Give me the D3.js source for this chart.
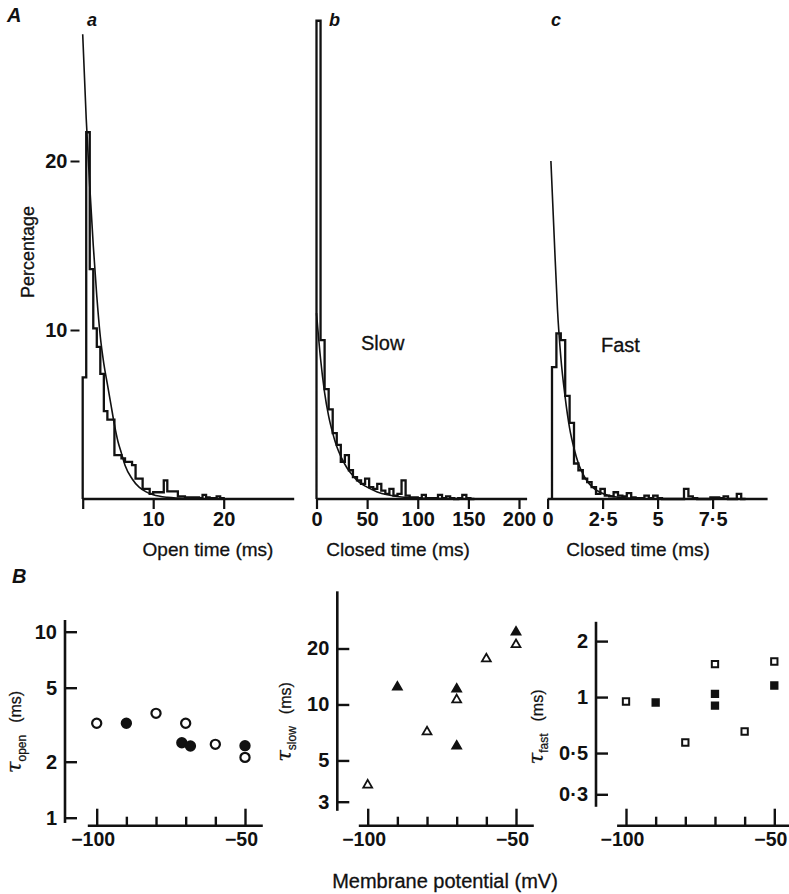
<!DOCTYPE html>
<html>
<head>
<meta charset="utf-8">
<script src="https://cdn.jsdelivr.net/npm/d3@7"></script>
<style>
  body { margin: 0; background: #fff; }
  svg { display: block; font-family: "Liberation Sans", Arial, sans-serif; }
</style>
</head>
<body>
<svg id="chart" width="789" height="894"></svg>
<script>
// ---- A a: open times, 0.5 ms bins from 0 (percentage)
const openBin = 0.5;
const openHist = [7.2, 21.7, 13.6, 10.1, 9.0, 7.4, 5.2, 4.7, 4.7, 2.6,
  2.6, 2.4, 2.2, 2.2, 2.0, 1.2, 1.2, 0.6, 0.6, 0.3,
  0.4, 0.4, 0.4, 1.1, 0.45, 0.45, 0.45, 0.15, 0.15, 0.1,
  0.1, 0.1, 0.1, 0.05, 0.25, 0.1, 0.05, 0.05, 0.15, 0.05];
const openFitT = [0, 0.5, 1, 1.5, 2, 2.5, 3, 3.5, 4, 4.5, 5, 5.5, 6, 7, 8, 9, 10, 12, 15, 20];
const openFitP = [27.5, 22.5, 18.5, 15, 12, 9.6, 8.0, 6.8, 5.6, 4.4, 3.4, 2.7, 2.0, 1.2, 0.7, 0.42, 0.25, 0.1, 0.03, 0];

// ---- A b: closed times (slow), 4 ms bins from 0
const slowBin = 4;
const slowHist = [28.3, 9.4, 6.5, 5.3, 3.9, 3.2, 2.2, 2.6, 1.7, 1.3,
  1.1, 0.9, 1.2, 0.7, 0.6, 0.9, 0.5, 0.3, 0.6, 0.2,
  0.3, 1.1, 0.2, 0.1, 0.1, 0.05, 0.25, 0.05, 0.05, 0.05,
  0.25, 0.05, 0.15, 0.05, 0, 0.05, 0.25, 0.05, 0];
const slowFitT = [0, 4, 8, 12, 16, 20, 25, 30, 35, 40, 50, 60, 70, 80, 100, 120, 150];
const slowFitP = [11.0, 8.3, 6.3, 4.9, 3.9, 3.1, 2.4, 1.85, 1.45, 1.1, 0.7, 0.42, 0.25, 0.15, 0.05, 0.02, 0];

// ---- A c: closed times (fast), 0.2 ms bins from 0.2 ms
const fastBin = 0.2;
const fastStart = 0.2;
const fastHist = [7.8, 9.8, 9.4, 6.1, 4.5, 2.1, 1.7, 1.2, 1.0, 0.7,
  0.3, 0.6, 0.2, 0.15, 0.4, 0.2, 0.15, 0.35, 0.1, 0.05,
  0.05, 0.2, 0.05, 0.2, 0.05, 0, 0, 0, 0, 0,
  0.6, 0.15, 0.05, 0, 0, 0, 0.1, 0.1, 0.05, 0.15,
  0, 0, 0.3, 0];
const fastFitT = [0.15, 0.3, 0.45, 0.6, 0.8, 1.0, 1.2, 1.4, 1.6, 1.8, 2.0, 2.4, 2.8, 3.2, 4, 5];
const fastFitP = [20, 15.5, 11.2, 8.4, 6.0, 4.2, 3.0, 2.1, 1.5, 1.05, 0.75, 0.38, 0.2, 0.1, 0.03, 0];

// ---- B: time constants vs membrane potential (mV)
const tauOpenOpenV = [-100, -80, -70, -60, -50];
const tauOpenOpen = [3.22, 3.64, 3.22, 2.48, 2.11];
const tauOpenFilledV = [-90, -71.3, -68.4, -50];
const tauOpenFilled = [3.22, 2.53, 2.43, 2.44];

const tauSlowOpenV = [-100, -80, -70, -60, -50];
const tauSlowOpen = [3.69, 7.13, 10.6, 17.6, 21.0];
const tauSlowFilledV = [-90, -70, -70, -50];
const tauSlowFilled = [12.4, 12.1, 5.97, 24.5];

const tauFastOpenV = [-100, -80, -70, -60, -50];
const tauFastOpen = [0.947, 0.57, 1.504, 0.653, 1.553];
const tauFastFilledV = [-90, -70, -70, -50];
const tauFastFilled = [0.935, 1.04, 0.90, 1.154];

const potTicks = [-100, -90, -80, -70, -60, -50];
const potLabelled = [-100, -50];

const ink = '#111';
const svg = d3.select('#chart');

// shared percentage scale for the three histograms
const yPct = d3.scaleLinear().domain([0, 10]).range([499, 330]);
const fmtDot = d => String(d).replace('.', '\u00b7');

function stepPoints(start, width, vals) {
  const pts = [[start, 0]];
  vals.forEach((v, i) => pts.push([start + i * width, v]));
  pts.push([start + vals.length * width, 0]);
  return pts;
}

function histPanel(o) {
  const x = d3.scaleLinear().domain(o.domain).range(o.range);
  const g = svg.append('g');

  // baseline
  g.append('line')
    .attr('x1', x(o.domain[0])).attr('x2', x(o.axisEnd))
    .attr('y1', yPct(0)).attr('y2', yPct(0))
    .attr('stroke', ink).attr('stroke-width', 2.6);

  const ax = g.append('g')
    .attr('transform', `translate(0,${yPct(0)})`)
    .call(d3.axisBottom(x).tickValues(o.ticks).tickSize(10).tickPadding(3)
      .tickFormat(d => (o.hideZero && d === 0) ? '' : fmtDot(d)));
  ax.select('.domain').remove();
  ax.selectAll('line').attr('stroke', ink).attr('stroke-width', 2.2);
  ax.selectAll('text').attr('fill', ink).attr('font-size', 20).attr('font-weight', 'bold')
    .attr('font-family', '"Liberation Sans", Arial, sans-serif');

  const hist = d3.line()
    .x(d => x(d[0])).y(d => yPct(d[1]))
    .curve(d3.curveStepAfter);
  g.append('path')
    .attr('d', hist(stepPoints(o.start, o.bin, o.hist)))
    .attr('fill', 'none').attr('stroke', ink).attr('stroke-width', 2.3)
    .attr('stroke-linejoin', 'miter');

  const fit = d3.line()
    .x(d => x(d[0])).y(d => yPct(d[1]))
    .curve(d3.curveMonotoneX);
  g.append('path')
    .attr('d', fit(o.fitT.map((t, i) => [t, o.fitP[i]])))
    .attr('fill', 'none').attr('stroke', ink).attr('stroke-width', 1.6);

  g.append('text')
    .attr('x', o.titleX).attr('y', 556)
    .attr('text-anchor', 'middle').attr('font-size', 19).attr('fill', ink)
    .attr('stroke', ink).attr('stroke-width', 0.3)
    .text(o.title);
  g.append('text')
    .attr('x', o.letterX).attr('y', 26)
    .attr('font-size', 18).attr('font-weight', 'bold').attr('font-style', 'italic').attr('fill', ink)
    .text(o.letter);
  return x;
}

histPanel({ domain: [0, 30], range: [82.7, 294.2], axisEnd: 30, ticks: [0, 10, 20], hideZero: true,
  start: 0, bin: openBin, hist: openHist, fitT: openFitT, fitP: openFitP,
  title: 'Open time (ms)', titleX: 208, letter: 'a', letterX: 87 });
histPanel({ domain: [0, 200], range: [316.5, 519], axisEnd: 208, ticks: [0, 50, 100, 150, 200],
  start: 0, bin: slowBin, hist: slowHist, fitT: slowFitT, fitP: slowFitP,
  title: 'Closed time (ms)', titleX: 398, letter: 'b', letterX: 329 });
histPanel({ domain: [0, 10], range: [547.6, 767.6], axisEnd: 10, ticks: [0, 2.5, 5, 7.5],
  start: fastStart, bin: fastBin, hist: fastHist, fitT: fastFitT, fitP: fastFitP,
  title: 'Closed time (ms)', titleX: 638, letter: 'c', letterX: 551 });

// percentage ticks (panel a only)
const yAx = svg.append('g')
  .attr('transform', 'translate(79.5,0)')
  .call(d3.axisLeft(yPct).tickValues([10, 20]).tickSize(9).tickPadding(3));
yAx.select('.domain').remove();
yAx.selectAll('line').attr('stroke', ink).attr('stroke-width', 2);
yAx.selectAll('text').attr('fill', ink).attr('font-size', 20).attr('font-weight', 'bold')
  .attr('font-family', '"Liberation Sans", Arial, sans-serif');

svg.append('text')
  .attr('transform', 'translate(34,252) rotate(-90)')
  .attr('text-anchor', 'middle').attr('font-size', 18).attr('fill', ink)
  .attr('stroke', ink).attr('stroke-width', 0.3)
  .text('Percentage');

svg.append('text').attr('x', 361).attr('y', 350).attr('font-size', 20).attr('fill', ink)
  .attr('stroke', ink).attr('stroke-width', 0.3).text('Slow');
svg.append('text').attr('x', 601).attr('y', 352).attr('font-size', 20).attr('fill', ink)
  .attr('stroke', ink).attr('stroke-width', 0.3).text('Fast');

svg.append('text').attr('x', 7).attr('y', 22)
  .attr('font-size', 20).attr('font-weight', 'bold').attr('font-style', 'italic').attr('fill', ink).text('A');
svg.append('text').attr('x', 12).attr('y', 583)
  .attr('font-size', 20).attr('font-weight', 'bold').attr('font-style', 'italic').attr('fill', ink).text('B');

// ---- B panels
function tauPanel(o) {
  const x = d3.scaleLinear().domain([-100, -50]).range(o.xRange);
  const y = d3.scaleLog().domain(o.yDomain).range(o.yRange);
  const g = svg.append('g');

  g.append('line')
    .attr('x1', o.yAxisX).attr('x2', o.yAxisX)
    .attr('y1', y(o.yExtent[0])).attr('y2', y(o.yExtent[1]))
    .attr('stroke', ink).attr('stroke-width', 2.6);
  const ya = g.append('g')
    .attr('transform', `translate(${o.yAxisX},0)`)
    .call(d3.axisLeft(y).tickValues(o.yTicks).tickSizeInner(-12).tickSizeOuter(0)
      .tickPadding(8).tickFormat(fmtDot));
  ya.select('.domain').remove();
  ya.selectAll('line').attr('stroke', ink).attr('stroke-width', 2.4);
  ya.selectAll('text').attr('fill', ink).attr('font-size', 20).attr('font-weight', 'bold')
    .attr('font-family', '"Liberation Sans", Arial, sans-serif');

  const xAxisY = 825.7;
  g.append('line')
    .attr('x1', x(-103)).attr('x2', x(-44))
    .attr('y1', xAxisY).attr('y2', xAxisY)
    .attr('stroke', ink).attr('stroke-width', 2.6);
  const xl = g.append('g').attr('transform', `translate(0,${xAxisY})`)
    .call(d3.axisBottom(x).tickValues(potLabelled).tickSizeInner(-17).tickSizeOuter(0).tickPadding(6));
  xl.select('.domain').remove();
  xl.selectAll('line').attr('stroke', ink).attr('stroke-width', 2.4);
  xl.selectAll('text').attr('fill', ink).attr('font-size', 19.5).attr('font-weight', 'bold')
    .attr('dx', -4)
    .attr('font-family', '"Liberation Sans", Arial, sans-serif');
  const xs = g.append('g').attr('transform', `translate(0,${xAxisY})`)
    .call(d3.axisBottom(x).tickValues(potTicks.filter(v => !potLabelled.includes(v)))
      .tickSizeInner(-9).tickSizeOuter(0).tickFormat(''));
  xs.select('.domain').remove();
  xs.selectAll('line').attr('stroke', ink).attr('stroke-width', 2.4);

  const sym = d3.symbol().type(o.symbol).size(o.symbolSize);
  const drawPts = (vs, ts, filled) => {
    g.selectAll(null)
      .data(vs.map((v, i) => [v, ts[i]]))
      .join('path')
      .attr('d', sym)
      .attr('transform', d => `translate(${x(d[0])},${y(d[1])})`)
      .attr('fill', filled ? ink : '#fff')
      .attr('stroke', ink).attr('stroke-width', o.strokeW);
  };
  drawPts(o.openV, o.openT, false);
  drawPts(o.filledV, o.filledT, true);

  const t = g.append('text')
    .attr('transform', `translate(${o.labelX},${o.labelY}) rotate(-90)`)
    .attr('text-anchor', 'middle').attr('fill', ink).attr('font-size', 16)
    .attr('stroke', ink).attr('stroke-width', 0.25);
  t.append('tspan').attr('font-family', '"DejaVu Serif", serif').attr('font-style', 'italic')
    .attr('font-size', 21).text('\u03c4');
  t.append('tspan').attr('font-size', 12).attr('dy', 5).text(o.sub);
  t.append('tspan').attr('dy', -5).attr('dx', 12).text('(ms)');
}

tauPanel({ xRange: [96.7, 245], yDomain: [1, 10], yRange: [817.7, 631.7], yAxisX: 65,
  yExtent: [0.937, 11.56], yTicks: [1, 2, 5, 10],
  symbol: d3.symbolCircle, symbolSize: 66, strokeW: 2.2,
  openV: tauOpenOpenV, openT: tauOpenOpen, filledV: tauOpenFilledV, filledT: tauOpenFilled,
  sub: 'open', labelX: 21, labelY: 732 });
tauPanel({ xRange: [367.7, 516], yDomain: [3, 20], yRange: [801.7, 648.5], yAxisX: 337.3,
  yExtent: [2.68, 40.6], yTicks: [3, 5, 10, 20],
  symbol: d3.symbolTriangle, symbolSize: 34, strokeW: 1.8,
  openV: tauSlowOpenV, openT: tauSlowOpen, filledV: tauSlowFilledV, filledT: tauSlowFilled,
  sub: 'slow', labelX: 291, labelY: 722 });
tauPanel({ xRange: [626, 774.3], yDomain: [0.3, 2], yRange: [794.3, 641.1], yAxisX: 596,
  yExtent: [0.257, 2.54], yTicks: [0.3, 0.5, 1, 2],
  symbol: d3.symbolSquare, symbolSize: 40, strokeW: 2,
  openV: tauFastOpenV, openT: tauFastOpen, filledV: tauFastFilledV, filledT: tauFastFilled,
  sub: 'fast', labelX: 543, labelY: 727 });

svg.append('text')
  .attr('x', 445).attr('y', 888)
  .attr('text-anchor', 'middle').attr('font-size', 20).attr('fill', ink)
  .attr('stroke', ink).attr('stroke-width', 0.3)
  .text('Membrane potential (mV)');
</script>
</body>
</html>
